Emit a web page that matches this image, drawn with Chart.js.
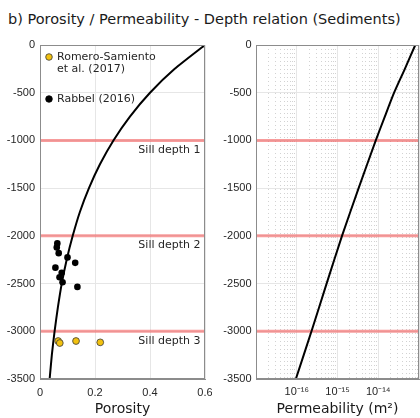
<!DOCTYPE html>
<html><head><meta charset="utf-8">
<script src="https://cdn.jsdelivr.net/npm/chart.js@4/dist/chart.umd.min.js"></script>
<style>
html,body{margin:0;padding:0;background:#fff;width:420px;height:418px;overflow:hidden;}
#title{position:absolute;left:8px;top:11px;font-family:"DejaVu Sans";font-size:14.5px;line-height:17px;color:#1a1a1a;white-space:nowrap;}
#cl{position:absolute;left:0;top:0;}
#cr{position:absolute;left:212px;top:0;}
</style></head><body>
<div id="title">b) Porosity / Permeability - Depth relation (Sediments)</div>
<canvas id="cl" width="212" height="418"></canvas>
<canvas id="cr" width="208" height="418"></canvas>
<script>
// ---- data ----
const curveDepth = [0,-250,-500,-750,-1000,-1250,-1500,-1750,-2000,-2250,-2500,-2750,-3000,-3250,-3500];
const curvePorosity = [0.600,0.490,0.400,0.327,0.267,0.218,0.178,0.145,0.119,0.097,0.079,0.065,0.053,0.043,0.035];
const permDepth = [0,-250,-500,-750,-1000,-1500,-2000,-2500,-3000,-3500];
const permValues = [8.1e-14,4.5e-14,2.45e-14,1.45e-14,8.7e-15,3.3e-15,1.29e-15,5.4e-16,2.3e-16,9.5e-17];
const rabbelPorosity = [0.063,0.061,0.068,0.100,0.128,0.056,0.079,0.071,0.082,0.136];
const rabbelDepth = [-2079,-2121,-2181,-2226,-2283,-2333,-2386,-2433,-2486,-2535];
const romeroPorosity = [0.066,0.072,0.131,0.219];
const romeroDepth = [-3102,-3123,-3102,-3116];
const sillDepths = [-1000,-2000,-3000];
const sillLabels = ['Sill depth 1','Sill depth 2','Sill depth 3'];
const depthTicks = [0,-500,-1000,-1500,-2000,-2500,-3000,-3500];
const porosityTicks = [0,0.2,0.4,0.6];
const porosityRange = [0,0.6];
const permRange = [1e-17,1e-13];
const permDecades = [-17,-16,-15,-14];
const permMantissas = [1,2,3,4,5,6,7,8,9];
const permTickValues = [1e-16,1e-15,1e-14];
const permTickLabels = ['10⁻¹⁶','10⁻¹⁵','10⁻¹⁴'];
const legendLabels = [['Romero-Samiento','et al. (2017)'],['Rabbel (2016)']];
const legendColors = ['#f2c10f','#000000'];

const tickFont = {family:'Liberation Sans', size:11};
const textColor = '#262626';
const axisColor = '#8c8c8c';
const sillColor = 'rgba(242,95,95,0.62)';

const pts = (xs, ys) => xs.map((x,i)=>({x, y:ys[i]}));

const boxPlugin = {
  id:'box',
  afterDraw(chart){
    const a = chart.chartArea, c = chart.ctx;
    c.save(); c.strokeStyle = axisColor; c.lineWidth = 1;
    c.strokeRect(Math.round(a.left)+0.5, Math.round(a.top)+0.5, Math.round(a.right-a.left)-1, Math.round(a.bottom-a.top)-1);
    c.restore();
  }
};

const annotPlugin = {
  id:'annot',
  afterDatasetsDraw(chart){
    const a = chart.chartArea, c = chart.ctx, ys = chart.scales.y;
    c.save();
    c.font = '11px "DejaVu Sans"'; c.fillStyle = textColor;
    c.textAlign = 'right'; c.textBaseline = 'alphabetic';
    sillDepths.forEach((d,i)=>{ c.fillText(sillLabels[i], a.right-4.5, ys.getPixelForValue(d)+12.5); });
    c.textAlign = 'left'; c.textBaseline = 'middle';
    let y = a.top + 12;
    legendLabels.forEach((lines,i)=>{
      c.beginPath(); c.arc(a.left+9, y, 3.3, 0, Math.PI*2);
      c.fillStyle = legendColors[i]; c.fill();
      c.lineWidth = 0.8; c.strokeStyle = i===0 ? '#3a3a3a' : '#000'; c.stroke();
      c.fillStyle = textColor;
      lines.forEach((t,j)=>{ c.fillText(t, a.left+17, y + j*12); });
      y += lines.length*12 + 18;
    });
    c.restore();
  }
};

const sillSets = (x0,x1) => sillDepths.map(d=>({
  data:[{x:x0,y:d},{x:x1,y:d}], showLine:true, borderColor:sillColor, borderWidth:3,
  pointRadius:0, pointHoverRadius:0
}));

const yAxis = (w,pad) => ({
  type:'linear', min:-3500, max:0,
  afterBuildTicks: s => { s.ticks = depthTicks.map(v=>({value:v})); },
  afterFit: s => { s.width = w; s.paddingTop = 0; s.paddingBottom = 0; },
  ticks:{font:tickFont, color:textColor, padding:pad, callback:v=>String(v)},
  grid:{color:'#e6e6e6', drawTicks:false},
  border:{color:axisColor}
});

new Chart(document.getElementById('cl'), {
  type:'scatter',
  data:{datasets:[
    {data:pts(romeroPorosity, romeroDepth), backgroundColor:legendColors[0], borderColor:'#3a3a3a', borderWidth:0.8, pointRadius:3.4},
    {data:pts(rabbelPorosity, rabbelDepth), backgroundColor:'#000', borderColor:'#000', borderWidth:0, pointRadius:3.3},
    {data:pts(curvePorosity, curveDepth), showLine:true, borderColor:'#000', borderWidth:2, pointRadius:0, pointHoverRadius:0, tension:0.2},
    ...sillSets(porosityRange[0], porosityRange[1])
  ]},
  options:{
    responsive:false, animation:false, devicePixelRatio:1,
    layout:{autoPadding:false, padding:{top:45, right:7, left:0, bottom:0}},
    plugins:{legend:{display:false}, tooltip:{enabled:false}},
    scales:{
      x:{type:'linear', min:porosityRange[0], max:porosityRange[1],
        afterBuildTicks: s => { s.ticks = porosityTicks.map(v=>({value:v})); },
        afterFit: s => { s.height = 39; s.paddingLeft = 0; s.paddingRight = 0; },
        ticks:{font:tickFont, color:textColor, padding:7, callback:v=>String(v)},
        grid:{color:'#e6e6e6', drawTicks:false},
        border:{color:axisColor},
        title:{display:true, text:'Porosity', font:{family:'DejaVu Sans', size:14}, color:'#1a1a1a', padding:{top:0,bottom:0}}
      },
      y: yAxis(40,5)
    }
  },
  plugins:[boxPlugin, annotPlugin]
});

const isLabeled = v => permTickValues.findIndex(t => Math.abs(Math.log10(v)-Math.log10(t))<1e-6);
const isMajor = v => Math.abs(Math.log10(v) - Math.round(Math.log10(v))) < 1e-6;

new Chart(document.getElementById('cr'), {
  type:'scatter',
  data:{datasets:[
    {data:pts(permValues, permDepth), showLine:true, borderColor:'#000', borderWidth:2, pointRadius:0, pointHoverRadius:0, tension:0.2},
    ...sillSets(permRange[0], permRange[1])
  ]},
  options:{
    responsive:false, animation:false, devicePixelRatio:1,
    layout:{autoPadding:false, padding:{top:45, right:1, left:0, bottom:0}},
    plugins:{legend:{display:false}, tooltip:{enabled:false}},
    scales:{
      x:{type:'logarithmic', min:permRange[0], max:permRange[1],
        afterBuildTicks: s => {
          const t = [];
          permDecades.forEach(e => permMantissas.forEach(m => t.push({value: m*Math.pow(10,e), major: m===1})));
          t.push({value: permRange[1], major:true});
          s.ticks = t;
        },
        afterFit: s => { s.height = 39; s.paddingLeft = 0; s.paddingRight = 0; },
        ticks:{font:tickFont, color:textColor, padding:6, autoSkip:false, maxRotation:0,
          callback:v => { const i = isLabeled(v); return i>=0 ? permTickLabels[i] : ''; }},
        grid:{drawTicks:false, color: ctx => (ctx.tick && isMajor(ctx.tick.value)) ? '#e6e6e6' : '#d2d2d2'},
        border:{color:axisColor, dash: ctx => (ctx.tick && isMajor(ctx.tick.value)) ? [] : [1,3]},
        title:{display:true, text:'Permeability (m²)', font:{family:'DejaVu Sans', size:14}, color:'#1a1a1a', padding:{top:0,bottom:0}}
      },
      y: yAxis(44,4.5)
    }
  },
  plugins:[boxPlugin]
});
</script>
</body></html>
